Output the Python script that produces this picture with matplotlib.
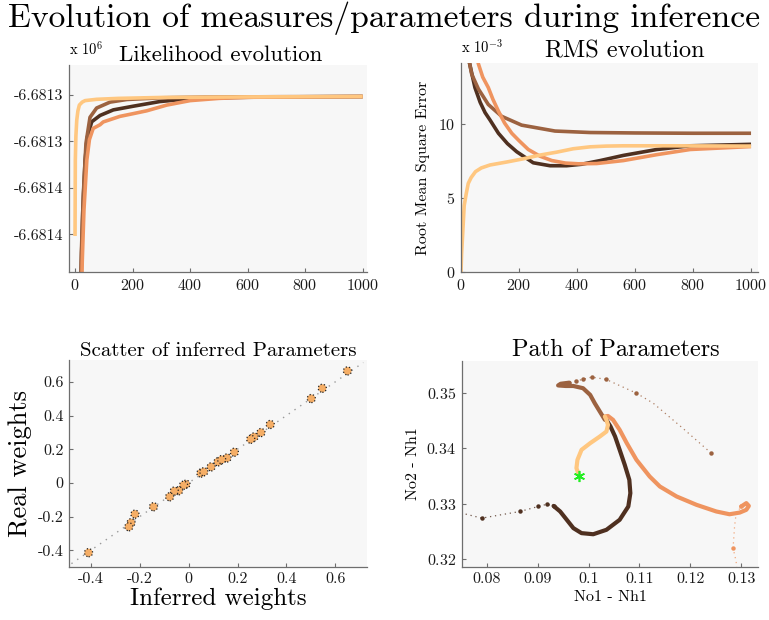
import matplotlib
matplotlib.use("Agg")
import matplotlib.pyplot as plt
import numpy as np

plt.rcParams['font.family'] = ['cmr10', 'DejaVu Serif']
plt.rcParams['mathtext.fontset'] = 'cm'
plt.rcParams['axes.unicode_minus'] = False
plt.rcParams['axes.formatter.use_mathtext'] = True

# ---------------- data ----------------
run_colors = ['#4F3020', '#9C6240', '#EF945F', '#FFC780']

# Likelihood evolution (raw values)
lik_x = [
    [19, 22, 27, 35, 43, 58, 87, 133, 203, 295, 400, 550, 700, 1000],
    [18, 22, 29, 38, 52, 75, 122, 180, 295, 450, 700, 1000],
    [21, 25, 31, 41, 50, 63, 87, 98, 156, 203, 249, 319, 400, 500, 600, 1000],
    [0, 1, 3, 6, 10, 15, 25, 35, 75, 150, 300, 600, 1000],
]
lik_y = [
    [-6681420, -6681390, -6681362, -6681335, -6681322.5, -6681314.4, -6681311, -6681308,
     -6681306, -6681303.5, -6681302, -6681301.3, -6681301, -6681300.8],
    [-6681420, -6681385, -6681353, -6681326, -6681312, -6681307, -6681303.8, -6681302.4,
     -6681301.5, -6681301.1, -6681300.9, -6681300.8],
    [-6681420, -6681390, -6681362, -6681335, -6681324, -6681318, -6681316, -6681314.5,
     -6681311.5, -6681310, -6681308.5, -6681305.4, -6681303, -6681301.8, -6681301.2, -6681300.8],
    [-6681376, -6681335, -6681322, -6681313.5, -6681308.5, -6681305.4, -6681303.8, -6681303,
     -6681302.3, -6681301.8, -6681301.3, -6681301, -6681300.8],
]
lik_yticks = [-6681300, -6681325, -6681350, -6681375]
lik_yticklabels = ['-6.6813', '-6.6813', '-6.6814', '-6.6814']
iter_ticks = [0, 200, 400, 600, 800, 1000]

# RMS evolution (units of 1e-3)
rms_x = [
    [22, 31, 48, 66, 83, 100, 129, 160, 192, 249, 307, 364, 416, 480, 560, 675, 790, 1000],
    [25, 31, 37, 60, 94, 140, 209, 324, 445, 600, 800, 1000],
    [52, 60, 75, 94, 110, 129, 150, 175, 200, 232, 272, 313, 360, 405, 468, 560, 675, 790, 1000],
    [0, 2, 5, 11, 18, 25, 35, 50, 70, 100, 157, 215, 272, 330, 387, 445, 500, 560, 732, 1000],
]
rms_y = [
    [14.8, 14.0, 12.5, 11.5, 10.8, 10.3, 9.4, 8.7, 8.15, 7.4, 7.2, 7.2, 7.3, 7.55, 7.9, 8.3, 8.55, 8.65],
    [14.8, 14.0, 13.4, 12.4, 11.35, 10.55, 9.95, 9.55, 9.45, 9.42, 9.4, 9.4],
    [14.8, 14.1, 13.2, 12.5, 11.7, 10.9, 10.1, 9.4, 8.9, 8.3, 7.85, 7.55, 7.38, 7.33, 7.35, 7.55, 7.95, 8.3, 8.5],
    [0, 1.2, 2.3, 4.5, 5.3, 6.0, 6.4, 6.8, 7.05, 7.25, 7.45, 7.67, 7.92, 8.12, 8.35, 8.48, 8.53, 8.55, 8.55, 8.53],
]
rms_yticks = [0, 5, 10]

# Scatter of inferred parameters
inferred_w = [0.650, 0.547, 0.502, 0.334, 0.296, 0.268, 0.254, 0.187, 0.157, 0.120, 0.135,
              0.092, 0.050, 0.062, -0.011, -0.021, -0.041, -0.059, -0.078, -0.144, -0.220,
              -0.236, -0.245, -0.410]
real_w = [0.665, 0.562, 0.501, 0.347, 0.299, 0.273, 0.259, 0.182, 0.148, 0.125, 0.138,
          0.095, 0.058, 0.066, -0.008, -0.014, -0.047, -0.049, -0.083, -0.142, -0.186,
          -0.237, -0.261, -0.415]
w_ticks = [-0.4, -0.2, 0, 0.2, 0.4, 0.6]
w_ticklabels = ['-0.4', '-0.2', '0', '0.2', '0.4', '0.6']

# Path of parameters: sparse (fast) start and dense (slow) part per run
path_sparse_x = [
    [0.0720, 0.0790, 0.0865, 0.0901, 0.0918, 0.0931],
    [0.1241, 0.1185, 0.1127, 0.1094, 0.1034, 0.1006, 0.0989, 0.0975, 0.0962],
    [0.1292, 0.1290, 0.1284, 0.1287, 0.1290, 0.1300],
    [],
]
path_sparse_y = [
    [0.3290, 0.3274, 0.3286, 0.3295, 0.3299, 0.3296],
    [0.3391, 0.3436, 0.3481, 0.3499, 0.3524, 0.3528, 0.3524, 0.3521, 0.3518],
    [0.3175, 0.3196, 0.3220, 0.3260, 0.3282, 0.3295],
    [],
]
path_big_idx = [[1, 2, 3, 4, 5], [0, 3, 4, 5, 6, 7, 8], [2, 5], []]
path_dense_x = [
    [0.0931, 0.0944, 0.0957, 0.0970, 0.0986, 0.1009, 0.1035, 0.1061, 0.1078, 0.1082,
     0.1080, 0.1071, 0.1061, 0.1052, 0.1043, 0.1035],
    [0.0962, 0.0945, 0.0940, 0.0955, 0.0970, 0.0989, 0.1003, 0.1012, 0.1022, 0.1032],
    [0.1300, 0.1310, 0.1315, 0.1310, 0.1297, 0.1277, 0.1251, 0.1212, 0.1173, 0.1140,
     0.1120, 0.1094, 0.1075, 0.1061, 0.1048, 0.1038, 0.1032],
    [0.0980, 0.0976, 0.0978, 0.0986, 0.1003, 0.1022, 0.1035, 0.1038, 0.1035, 0.1032],
]
path_dense_y = [
    [0.3296, 0.3286, 0.3271, 0.3256, 0.3247, 0.3245, 0.3253, 0.3271, 0.3295, 0.3319,
     0.3343, 0.3370, 0.3397, 0.3421, 0.3439, 0.3451],
    [0.3518, 0.3516, 0.3513, 0.3512, 0.3512, 0.3508, 0.3496, 0.3481, 0.3466, 0.3451],
    [0.3295, 0.3301, 0.3296, 0.3289, 0.3284, 0.3281, 0.3286, 0.3298, 0.3313, 0.3331,
     0.3349, 0.3379, 0.3409, 0.3433, 0.3451, 0.3458, 0.3457],
    [0.3354, 0.3364, 0.3379, 0.3397, 0.3409, 0.3421, 0.3430, 0.3442, 0.3451, 0.3457],
]
true_param = (0.0982, 0.3349)
path_xticks = [0.08, 0.09, 0.1, 0.11, 0.12, 0.13]
path_xticklabels = ['0.08', '0.09', '0.1', '0.11', '0.12', '0.13']
path_yticks = [0.32, 0.33, 0.34, 0.35]

# ---------------- figure ----------------
W, H = 769, 620
fig = plt.figure(figsize=(W / 100, H / 100), dpi=100)
fig.patch.set_facecolor('white')


def px_axes(l, t, r, b):
    return fig.add_axes([l / W, 1 - b / H, (r - l) / W, (b - t) / H])


def style(ax):
    ax.set_facecolor('#F7F7F7')
    for s in ['top', 'right']:
        ax.spines[s].set_visible(False)
    for s in ['left', 'bottom']:
        ax.spines[s].set_color('#6e6e6e')
        ax.spines[s].set_linewidth(0.9)
    ax.tick_params(direction='in', length=3, width=0.8, color='#6e6e6e',
                   labelsize=11.5, labelcolor='#1a1a1a', pad=4)


fig.suptitle('Evolution of measures/parameters during inference', x=0.5, y=0.998,
             fontsize=24.2, va='top')

# Likelihood
ax1 = px_axes(69, 65, 367, 272)
style(ax1)
for xs, ys, c in zip(lik_x, lik_y, run_colors):
    ax1.plot(xs, ys, color=c, lw=2.6, solid_capstyle='butt')
ax1.set_xlim(-21, 1015)
ax1.set_ylim(-6681395.4, -6681283.8)
ax1.set_xticks(iter_ticks)
ax1.set_yticks(lik_yticks)
ax1.set_yticklabels(lik_yticklabels)
ax1.text(0.0, 1.035, r'x 10$^{6}$', transform=ax1.transAxes, fontsize=10.5, ha='left', va='bottom')
ax1.set_title('Likelihood evolution', fontsize=16.5, x=0.51, pad=1)

# RMS
ax2 = px_axes(461, 63, 758, 272)
style(ax2)
for xs, ys, c in zip(rms_x, rms_y, run_colors):
    ax2.plot(xs, ys, color=c, lw=2.6, solid_capstyle='butt')
ax2.set_xlim(0, 1024)
ax2.set_ylim(0, 14.16)
ax2.set_xticks(iter_ticks)
ax2.set_yticks(rms_yticks)
ax2.text(0.0, 1.035, r'x 10$^{-3}$', transform=ax2.transAxes, fontsize=10.5, ha='left', va='bottom')
ax2.set_title('RMS evolution', fontsize=17.5, x=0.55, pad=0)
ax2.set_ylabel('Root Mean Square Error', fontsize=11.5, labelpad=6)

# Scatter
ax3 = px_axes(69, 360, 367, 567)
style(ax3)
ax3.set_xlim(-0.49, 0.73)
ax3.set_ylim(-0.5, 0.73)
lo = max(ax3.get_xlim()[0], ax3.get_ylim()[0]) + 0.01
hi = min(ax3.get_xlim()[1], ax3.get_ylim()[1]) - 0.015
ax3.plot([lo, hi], [lo, hi], ls=(0, (1, 4)), color='#9a9a9a', lw=1.0)
ax3.scatter(inferred_w, real_w, s=34, facecolor='#F5AE66', edgecolor='#222222',
            linewidths=0.9, linestyle=':', zorder=3)
ax3.set_xticks(w_ticks)
ax3.set_yticks(w_ticks)
ax3.set_xticklabels(w_ticklabels)
ax3.set_yticklabels(w_ticklabels)
ax3.set_title('Scatter of inferred Parameters', fontsize=15, pad=0)
ax3.set_xlabel('Inferred weights', fontsize=18, labelpad=1)
ax3.set_ylabel('Real weights', fontsize=19, labelpad=4)

# Path
ax4 = px_axes(462, 361, 758, 567)
style(ax4)
for sx, sy, big, dx, dy, c in zip(path_sparse_x, path_sparse_y, path_big_idx,
                                  path_dense_x, path_dense_y, run_colors):
    if sx:
        ax4.plot(sx, sy, ls=(0, (1, 3)), color=c, lw=0.9, alpha=0.8)
        ax4.plot([sx[i] for i in big], [sy[i] for i in big], 'o', color=c, ms=3.2, mew=0)
    ax4.plot(dx, dy, color=c, lw=3.0, solid_capstyle='round', solid_joinstyle='round')
ax4.plot([true_param[0]], [true_param[1]], marker=(6, 2, 0), color='#22EE22', ms=8, mew=1.2)
ax4.set_xlim(0.0751, 0.1333)
ax4.set_ylim(0.3186, 0.3557)
ax4.set_xticks(path_xticks)
ax4.set_xticklabels(path_xticklabels)
ax4.set_yticks(path_yticks)
ax4.set_title('Path of Parameters', fontsize=17.5, x=0.52, pad=2)
ax4.set_xlabel('No1 - Nh1', fontsize=11.5, labelpad=3)
ax4.set_ylabel('No2 - Nh1', fontsize=11.5, labelpad=5)

fig.savefig('out.png', dpi=100)
